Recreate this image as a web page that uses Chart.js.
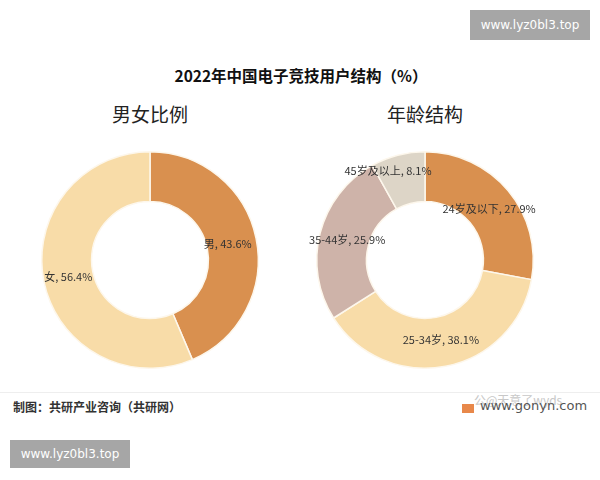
<!DOCTYPE html>
<html>
<head>
<meta charset="utf-8">
<script src="https://cdn.jsdelivr.net/npm/chart.js@4"></script>
<style>
  body { margin: 0; background: #fff; font-family: "Noto Sans CJK SC", "Noto Sans", sans-serif; }
  #page { position: relative; width: 600px; height: 480px; overflow: hidden; background: #fff; }
  .txt { position: absolute; white-space: nowrap; }
  .box { position: absolute; background: #a6a6a6; color: #fff; font-family: "DejaVu Sans", sans-serif;
         font-size: 12px; line-height: 30px; text-align: center; }
  canvas { position: absolute; }
</style>
</head>
<body>
<div id="page">
  <div class="box" style="left:470px; top:10px; width:120px; height:30px;">www.lyz0bl3.top</div>
  <div class="txt" style="left:0; width:602px; top:64px; text-align:center; font-size:15.5px; font-weight:bold; color:#111;">2022年中国电子竞技用户结构（%）</div>
  <div class="txt" style="left:50px; width:200px; top:100px; text-align:center; font-size:19px; color:#222;">男女比例</div>
  <div class="txt" style="left:325px; width:200px; top:100px; text-align:center; font-size:19px; color:#222;">年龄结构</div>

  <canvas id="chartSexo" width="266" height="226" style="left:17px; top:147px;"></canvas>
  <canvas id="chartIdade" width="266" height="226" style="left:292px; top:147px;"></canvas>

  <div style="position:absolute; left:0; top:392px; width:600px; height:1px; background:#eeeeee;"></div>
  <div class="txt" style="left:13px; top:398px; font-size:12px; font-weight:bold; color:#333;">制图：共研产业咨询（共研网）</div>
  <div class="txt" style="left:474px; top:391px; font-size:12px; color:#c8c8c8;">公@天意了wyds</div>
  <div style="position:absolute; left:462px; top:404px; width:12px; height:9px; background:#e8884a;"></div>
  <div class="txt" style="left:480px; top:398px; font-size:13px; color:#555; font-family:'DejaVu Sans', sans-serif;">www.gonyn.com</div>

  <div class="box" style="left:10px; top:440px; width:120px; height:28px; line-height:28px;">www.lyz0bl3.top</div>
</div>
<script>
// dados
var sexoLabels = ['男', '女'];
var sexoValores = [43.6, 56.4];
var idadeLabels = ['24岁及以下', '25-34岁', '35-44岁', '45岁及以上'];
var idadeValores = [27.9, 38.1, 25.9, 8.1];

// rótulos dentro do anel
var rotulos = {
    id: 'rotulos',
    afterDatasetsDraw: function (chart) {
        var ctx = chart.ctx;
        var meta = chart.getDatasetMeta(0);
        var ds = chart.data.datasets[0];
        ctx.save();
        ctx.font = '11px "Noto Sans CJK SC", sans-serif';
        ctx.fillStyle = '#333333';
        ctx.textAlign = 'center';
        ctx.textBaseline = 'middle';
        meta.data.forEach(function (arc, i) {
            var p = arc.tooltipPosition();
            var off = (ds.labelOffsets && ds.labelOffsets[i]) || [0, 0];
            ctx.fillText(chart.data.labels[i] + ', ' + ds.data[i].toFixed(1) + '%', p.x + off[0], p.y + off[1]);
        });
        ctx.restore();
    }
};

function opcoes() {
    return {
        responsive: false,
        animation: false,
        cutout: '54%',
        layout: { padding: { left: 24, right: 24, top: 4, bottom: 4 } },
        plugins: { legend: { display: false }, tooltip: { enabled: false } }
    };
}

new Chart(document.getElementById('chartSexo'), {
    type: 'doughnut',
    data: {
        labels: sexoLabels,
        datasets: [{
            data: sexoValores,
            backgroundColor: ['#d9904f', '#f8dca8'],
            borderColor: '#fdf7ec',
            borderWidth: 1.5,
            labelOffsets: [[-4, 0], [0, 0]]
        }]
    },
    options: opcoes(),
    plugins: [rotulos]
});

new Chart(document.getElementById('chartIdade'), {
    type: 'doughnut',
    data: {
        labels: idadeLabels,
        datasets: [{
            data: idadeValores,
            backgroundColor: ['#d9904f', '#f8dca8', '#ceb3a9', '#ddd5c7'],
            borderColor: '#fdf7ec',
            borderWidth: 1.5,
            labelOffsets: [[0, 2], [0, -2], [3, 0], [-16, -9]]
        }]
    },
    options: opcoes(),
    plugins: [rotulos]
});
</script>
</body>
</html>
